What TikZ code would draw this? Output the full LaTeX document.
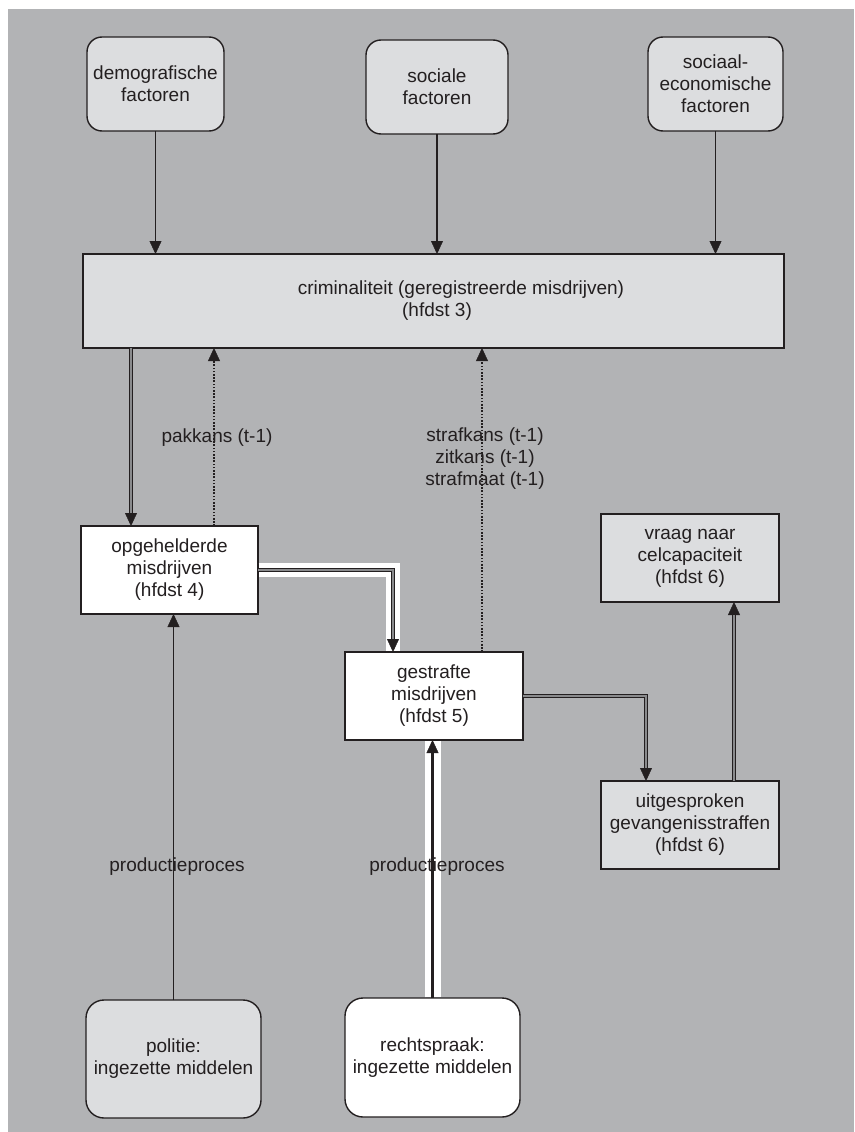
\documentclass[tikz,border=0pt]{standalone}
\usepackage{fontspec}
\setmainfont{Liberation Sans}
\usetikzlibrary{arrows.meta}
\definecolor{bggray}{HTML}{B2B3B5}
\definecolor{boxgray}{HTML}{DCDDDF}
\definecolor{ink}{HTML}{231F20}
\definecolor{dblgray}{HTML}{8A8B8D}
\begin{document}
\begin{tikzpicture}[x=1pt,y=-1pt,
  every node/.style={font=\fontsize{19}{22}\selectfont, text=ink, align=center, inner sep=0pt, outer sep=0pt},
  graybox/.style={draw=ink, line width=1.4pt, fill=boxgray},
  whitebox/.style={draw=ink, line width=1.4pt, fill=white},
  roundgray/.style={graybox, rounded corners=15pt},
  roundbottom/.style={draw=ink, line width=1.4pt, rounded corners=18pt},
  tip/.style={-{Triangle[length=13pt,width=12pt,line width=0.4pt]}},
  thinarrow/.style={draw=ink, line width=1.2pt, tip},
  solidarrow/.style={draw=ink, line width=1.6pt, tip},
  dotarrow/.style={draw=ink, line width=1.6pt, dash pattern=on 1.6pt off 1.6pt, tip},
  dblout/.style={draw=ink, line width=4.6pt, line join=miter, tip},
  dblin/.style={draw=dblgray, line width=1.8pt, line join=miter, shorten >=13pt},
  halo/.style={draw=white, line width=#1, line join=miter},
]
\useasboundingbox (0,0) rectangle (854,1132);
\fill[white] (0,0) rectangle (854,1132);
\fill[bggray] (8,9) rectangle (854,1132);

% boxes
\node[roundgray, minimum width=137pt, minimum height=94pt] (demo) at (155.5,84) {demografische\\factoren};
\node[roundgray, minimum width=142pt, minimum height=94pt] (soc) at (437,87) {sociale\\factoren};
\node[roundgray, minimum width=135pt, minimum height=94pt] (soe) at (715.5,84) {sociaal-\\economische\\factoren};
\node[graybox, minimum width=701pt, minimum height=94pt] (crim) at (433.5,301) {\hspace*{55pt}criminaliteit (geregistreerde misdrijven)\\\hspace*{7pt}(hfdst 3)};
\node[whitebox, minimum width=177pt, minimum height=88pt] (opg) at (169.5,570) {opgehelderde\\misdrijven\\(hfdst 4)};
\node[whitebox, minimum width=178pt, minimum height=88pt] (gest) at (434,696) {gestrafte\\misdrijven\\(hfdst 5)};
\node[graybox, minimum width=178pt, minimum height=88pt] (vraag) at (690,558) {vraag naar\\celcapaciteit\\(hfdst 6)};
\node[graybox, minimum width=178pt, minimum height=88pt] (uitg) at (690,825) {uitgesproken\\gevangenisstraffen\\(hfdst 6)};
\node[roundbottom, fill=boxgray, minimum width=175pt, minimum height=118pt] (pol) at (173.5,1059) {politie:\\ingezette middelen};
\node[roundbottom, fill=white, minimum width=175pt, minimum height=119pt] (recht) at (432.5,1057.5) {rechtspraak:\\ingezette middelen};

% helper coordinates
\coordinate (c1) at ([xshift=50pt]opg.north west);
\coordinate (c2) at ([xshift=133pt]opg.north west);
\coordinate (c3) at ([xshift=137pt]gest.north west);
\coordinate (c4) at ([xshift=48pt]gest.north west);
\coordinate (c5) at ([xshift=45pt]uitg.north west);
\coordinate (c6) at ([xshift=133pt]uitg.north west);

% factor arrows
\draw[thinarrow] (demo.south) -- (demo.south |- crim.north);
\draw[thinarrow] (soc.south) -- (soc.south |- crim.north);
\draw[thinarrow] (soe.south) -- (soe.south |- crim.north);

% crim -> opgehelderde (double)
\draw[dblout] (c1 |- crim.south) -- (c1);
\draw[dblin] (c1 |- crim.south) -- (c1);

% dotted feedback arrows
\draw[dotarrow] (c2) -- (c2 |- crim.south);
\draw[dotarrow] (c3) -- (c3 |- crim.south);
\node at (217,438) {pakkans (t-1)};
\node at (485,459) {strafkans (t-1)\\zitkans (t-1)\\strafmaat (t-1)};

% opgehelderde -> gestrafte (double with white halo)
\draw[halo=14pt, shorten <=0.7pt, shorten >=0.7pt] (opg.east) -| (c4);
\draw[dblout] (opg.east) -| (c4);
\draw[dblin] (opg.east) -| (c4);

% gestrafte -> uitgesproken (double)
\draw[dblout] (gest.east) -| (c5);
\draw[dblin] (gest.east) -| (c5);

% uitgesproken -> vraag (double)
\draw[dblout] (c6) -- (c6 |- vraag.south);
\draw[dblin] (c6) -- (c6 |- vraag.south);

% production arrows
\draw[halo=16pt, shorten <=0.7pt, shorten >=0.7pt] (recht.north) -- (recht.north |- gest.south);
\node at (177,867) {productieproces};
\node at (437,867) {productieproces};
\draw[solidarrow] (pol.north) -- (pol.north |- opg.south);
\draw[ink, line width=3pt, tip] (recht.north) -- (recht.north |- gest.south);
\end{tikzpicture}
\end{document}
